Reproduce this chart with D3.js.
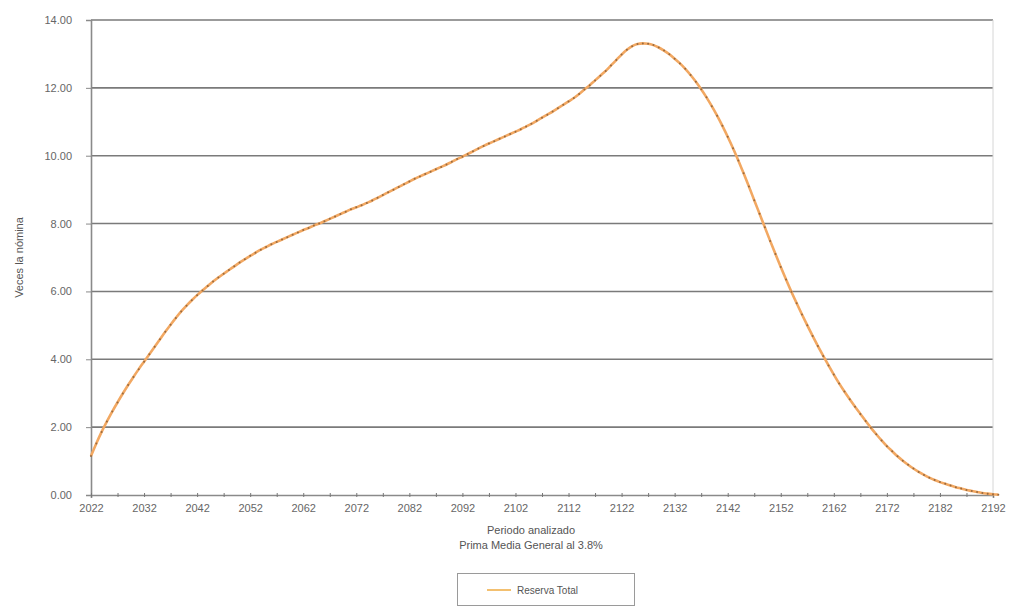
<!DOCTYPE html>
<html><head><meta charset="utf-8">
<script src="https://cdn.jsdelivr.net/npm/d3@7"></script>
<style>body{margin:0;background:#fff}svg{display:block;font-family:"Liberation Sans",Arial,sans-serif}</style>
</head><body><svg id="c" width="1011" height="608"></svg>
<script>
const startYear = 2022;
const reservaTotal = [
1.15,1.52,1.86,2.17,2.46,2.73,2.99,3.24,3.48,3.71,
3.93,4.15,4.37,4.59,4.81,5.02,5.22,5.41,5.58,5.74,
5.89,6.03,6.16,6.29,6.41,6.52,6.63,6.74,6.85,6.95,
7.05,7.14,7.23,7.31,7.39,7.46,7.53,7.60,7.67,7.74,
7.81,7.87,7.94,8.00,8.07,8.14,8.21,8.28,8.35,8.42,
8.48,8.54,8.61,8.68,8.76,8.84,8.92,9.00,9.08,9.16,
9.24,9.32,9.39,9.46,9.53,9.60,9.67,9.74,9.82,9.90,
9.97,10.05,10.13,10.21,10.29,10.36,10.43,10.50,10.57,10.64,
10.71,10.78,10.86,10.94,11.03,11.12,11.21,11.30,11.40,11.50,
11.60,11.70,11.82,11.95,12.08,12.22,12.36,12.50,12.66,12.82,
12.98,13.12,13.23,13.29,13.31,13.30,13.26,13.19,13.10,12.99,
12.86,12.72,12.56,12.38,12.18,11.96,11.72,11.46,11.18,10.88,
10.56,10.22,9.86,9.48,9.09,8.69,8.29,7.89,7.49,7.10,
6.72,6.35,5.99,5.65,5.32,5.00,4.69,4.39,4.10,3.82,
3.55,3.29,3.05,2.82,2.60,2.39,2.18,1.98,1.79,1.61,
1.44,1.29,1.14,1.01,0.89,0.78,0.68,0.59,0.51,0.44,
0.38,0.33,0.28,0.23,0.19,0.15,0.12,0.09,0.06,0.04,
0.02,0.01];
const years = reservaTotal.map((_, i) => startYear + i);
const yTicks = [0, 2, 4, 6, 8, 10, 12, 14];
const xLabelYears = d3.range(2022, 2193, 10);
const xTickYears = d3.range(2022, 2193, 5);
const yTitle = "Veces la nómina";
const xTitle1 = "Periodo analizado";
const xTitle2 = "Prima Media General al 3.8%";
const seriesName = "Reserva Total";

const svg = d3.select("#c");
const L = 91, R = 993, T = 20, B = 495;
const x = d3.scaleLinear().domain([2022, 2192]).range([L, R]);
const y = d3.scaleLinear().domain([0, 14]).range([B, T]);

svg.append("g").selectAll("line").data(yTicks.filter(d => d > 0)).join("line")
  .attr("x1", L).attr("x2", R).attr("y1", d => y(d)).attr("y2", d => y(d))
  .attr("stroke", "#7a7a7a").attr("stroke-width", 1.6);
svg.append("line").attr("x1", R).attr("x2", R).attr("y1", T).attr("y2", B)
  .attr("stroke", "#d6d6d6").attr("stroke-width", 1);

const ya = svg.append("g").attr("transform", `translate(${L},0)`)
  .call(d3.axisLeft(y).tickValues(yTicks).tickFormat(d3.format(".2f")).tickSize(5).tickPadding(14));
ya.select(".domain").attr("stroke", "#8a8a8a").attr("stroke-width", 1.6);
ya.selectAll(".tick line").attr("stroke", "#8a8a8a");
ya.selectAll("text").attr("fill", "#666").attr("font-size", 11).attr("font-family", "Liberation Sans, Arial, sans-serif");

const xa = svg.append("g").attr("transform", `translate(0,${B})`)
  .call(d3.axisBottom(x).tickValues(xTickYears).tickFormat(d => xLabelYears.includes(d) ? d : "").tickSize(3).tickPadding(6));
xa.select(".domain").attr("stroke", "#8a8a8a").attr("stroke-width", 1.6);
xa.selectAll(".tick line").attr("stroke", "#777").attr("y1", -2).attr("y2", 2);
xa.selectAll("text").attr("fill", "#666").attr("font-size", 11).attr("font-family", "Liberation Sans, Arial, sans-serif");

const line = d3.line().x((d, i) => x(years[i])).y(d => y(d)).curve(d3.curveMonotoneX);
svg.append("path").datum(reservaTotal).attr("d", line)
  .attr("fill", "none").attr("stroke", "#f2a862").attr("stroke-width", 2.6);
svg.append("g").selectAll("circle").data(reservaTotal).join("circle")
  .attr("cx", (d, i) => x(years[i])).attr("cy", d => y(d)).attr("r", 1.0)
  .attr("fill", "#9a6a3e");

svg.append("text").attr("transform", `translate(23,${(T + B) / 2}) rotate(-90)`)
  .attr("text-anchor", "middle").attr("font-size", 11).attr("fill", "#555").text(yTitle);
svg.append("text").attr("x", 531).attr("y", 534).attr("text-anchor", "middle")
  .attr("font-size", 11).attr("fill", "#555").text(xTitle1);
svg.append("text").attr("x", 531).attr("y", 549).attr("text-anchor", "middle")
  .attr("font-size", 11).attr("fill", "#555").text(xTitle2);

const lg = svg.append("g");
lg.append("rect").attr("x", 457.5).attr("y", 573.5).attr("width", 177).attr("height", 32)
  .attr("fill", "#fff").attr("stroke", "#9a9a9a");
lg.append("line").attr("x1", 487).attr("x2", 511).attr("y1", 590).attr("y2", 590)
  .attr("stroke", "#f3c070").attr("stroke-width", 2);
lg.append("text").attr("x", 517).attr("y", 594).attr("font-size", 10).attr("fill", "#555").text(seriesName);
</script></body></html>
